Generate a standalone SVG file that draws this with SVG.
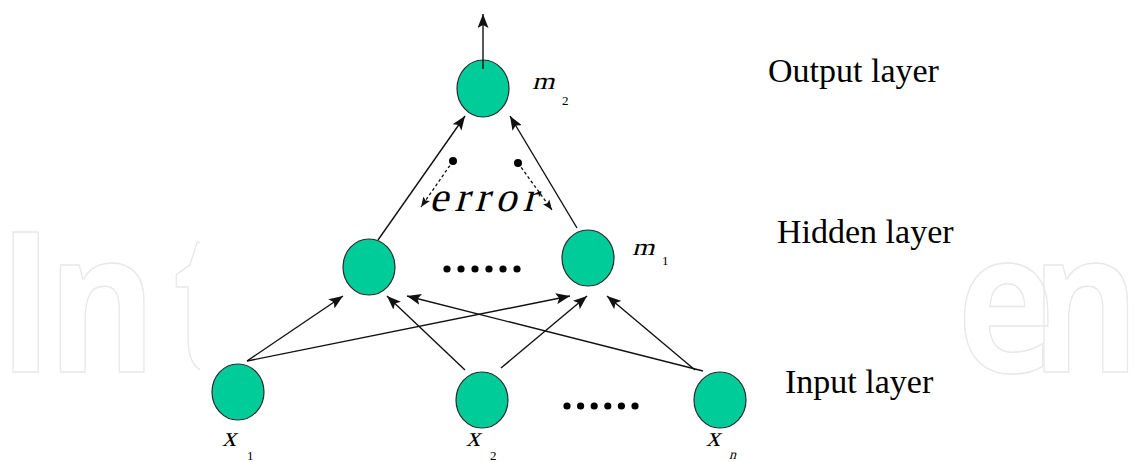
<svg xmlns="http://www.w3.org/2000/svg" width="1145" height="462" viewBox="0 0 1145 462">
<defs>
<marker id="ah" markerUnits="userSpaceOnUse" markerWidth="15" markerHeight="11" viewBox="0 0 15 11" refX="14" refY="5.5" orient="auto">
<path d="M0,0 L14,5.5 L0,11 L3,5.5 Z" fill="#111"/>
</marker>
<marker id="ahs" markerUnits="userSpaceOnUse" markerWidth="11" markerHeight="8" viewBox="0 0 11 8" refX="10" refY="4" orient="auto">
<path d="M0,0 L10,4 L0,8 L2,4 Z" fill="#111"/>
</marker>
<style>
.node{fill:#00cc99;stroke:#2a2a2a;stroke-width:1.2}
.edge{stroke:#111;stroke-width:1.4;fill:none;marker-end:url(#ah)}
.err{stroke:#111;stroke-width:1.3;fill:none;stroke-dasharray:3 2.5;marker-end:url(#ahs)}
.lbl{font-family:"Liberation Serif","Times New Roman",serif;fill:#000}
.sub{font-family:"Liberation Serif","Times New Roman",serif;font-size:13px;fill:#000}
.layer{font-family:"Liberation Serif","Times New Roman",serif;font-size:34px;fill:#000}
.wm{font-family:"Open Sans","DejaVu Sans",sans-serif;font-weight:700;font-size:195px;fill:none;stroke:#e8e8e8;stroke-width:1.5}
</style>
</defs>
<rect width="1145" height="462" fill="#fff"/>
<g id="watermark">
<text class="wm" transform="translate(0,372) scale(0.85,1)" x="-2 56 203" y="0">Int</text>
<text class="wm" transform="translate(0,372) scale(0.85,1)" x="1126 1213" y="0">en</text>
<rect x="200" y="200" width="758" height="200" fill="#fff"/>
</g>
<g id="connectors">
<line class="edge" x1="483" y1="69" x2="483" y2="14"/>
<line class="edge" x1="378" y1="240" x2="465" y2="116"/>
<line class="edge" x1="577" y1="228" x2="510" y2="116"/>
<line class="edge" x1="247" y1="361" x2="343" y2="296"/>
<line class="edge" x1="247" y1="361" x2="570" y2="296"/>
<line class="edge" x1="465" y1="370" x2="387" y2="296"/>
<line class="edge" x1="501" y1="368" x2="587" y2="296"/>
<line class="edge" x1="703" y1="371" x2="407" y2="296"/>
<line class="edge" x1="695" y1="370" x2="607" y2="296"/>
<line class="err" x1="453" y1="161" x2="421" y2="207"/>
<line class="err" x1="518" y1="163" x2="552" y2="210"/>
<circle cx="453" cy="161" r="4" fill="#000"/>
<circle cx="518" cy="163" r="4" fill="#000"/>
</g>
<g id="m2">
<ellipse class="node" cx="483" cy="88.5" rx="26" ry="28.5"/>
<line x1="483" y1="69" x2="483" y2="60" stroke="#111" stroke-width="1.4"/>
<text class="lbl" transform="translate(532,89) skewX(-15) scale(1.2,1)" font-size="24">m</text>
<text class="sub" x="562" y="105">2</text>
</g>
<g id="hidden-left">
<ellipse class="node" cx="369" cy="267" rx="26" ry="28"/>
</g>
<g id="m1">
<ellipse class="node" cx="588" cy="258" rx="26" ry="28"/>
<text class="lbl" transform="translate(632,255) skewX(-15) scale(1.2,1)" font-size="24">m</text>
<text class="sub" x="662" y="265">1</text>
</g>
<g id="hidden-dots" fill="#000">
<circle cx="447" cy="269" r="3.6"/><circle cx="461" cy="269" r="3.6"/><circle cx="475" cy="269" r="3.6"/><circle cx="489" cy="269" r="3.6"/><circle cx="503" cy="269" r="3.6"/><circle cx="517" cy="269" r="3.6"/>
</g>
<g id="x1">
<ellipse class="node" cx="238" cy="392" rx="26" ry="28"/>
<text class="lbl" transform="translate(222,446) skewX(-15)" font-size="28">x</text>
<text class="sub" x="247" y="460">1</text>
</g>
<g id="x2">
<ellipse class="node" cx="482" cy="400" rx="26" ry="28"/>
<text class="lbl" transform="translate(466,446) skewX(-15)" font-size="28">x</text>
<text class="sub" x="490" y="460">2</text>
</g>
<g id="input-dots" fill="#000">
<circle cx="567" cy="406" r="3.6"/><circle cx="580.6" cy="406" r="3.6"/><circle cx="594.2" cy="406" r="3.6"/><circle cx="607.8" cy="406" r="3.6"/><circle cx="621.4" cy="406" r="3.6"/><circle cx="635" cy="406" r="3.6"/>
</g>
<g id="xn">
<ellipse class="node" cx="720" cy="400" rx="26" ry="28"/>
<text class="lbl" transform="translate(706,446) skewX(-15)" font-size="28">x</text>
<text class="lbl" transform="translate(729,459) skewX(-15)" font-size="14">n</text>
</g>
<g id="error-label">
<text class="lbl" transform="translate(429,211) skewX(-15)" font-size="42" letter-spacing="6.5">error</text>
</g>
<g id="layer-labels">
<text class="layer" x="768" y="82">Output layer</text>
<text class="layer" x="777" y="243">Hidden layer</text>
<text class="layer" x="785" y="393">Input layer</text>
</g>
</svg>
